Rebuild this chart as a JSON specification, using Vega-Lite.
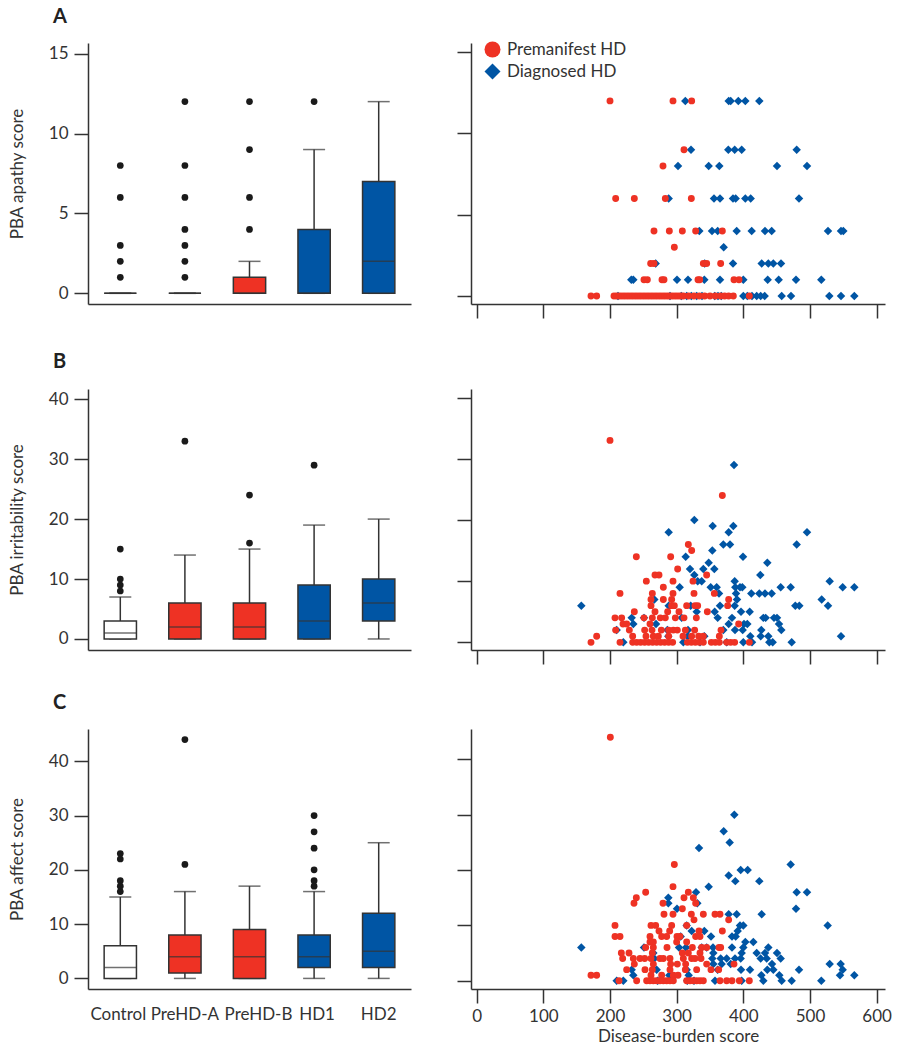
{
  "$schema": "https://vega.github.io/schema/vega-lite/v6.json",
  "padding": {"left": 8, "top": 7, "right": 3, "bottom": 2},
  "background": "white",
  "config": {
    "font": "Lato",
    "view": {"stroke": null},
    "axis": {"domainColor": "#333333", "tickColor": "#333333", "domainWidth": 1.5, "tickWidth": 1.5, "tickSize": 14, "grid": false, "labelFont": "Lato", "labelFontSize": 17, "labelColor": "#333333", "titleFont": "Lato", "titleFontSize": 17, "titleFontWeight": "normal", "titleColor": "#333333", "labelPadding": 6, "titlePadding": 22},
    "title": {"font": "Lato", "fontSize": 20, "fontWeight": "bold", "color": "#222222", "anchor": "start", "frame": "group", "baseline": "alphabetic"},
    "legend": {"labelFont": "Lato", "labelFontSize": 17, "labelColor": "#333333"}
  },
  "datasets": {
    "boxA": [
      {"group": "Control", "type": "Control", "lo": 0, "q1": 0, "med": 0, "q3": 0, "hi": 0},
      {"group": "PreHD-A", "type": "Premanifest", "lo": 0, "q1": 0, "med": 0, "q3": 0, "hi": 0},
      {"group": "PreHD-B", "type": "Premanifest", "lo": 0, "q1": 0, "med": 0, "q3": 1, "hi": 2},
      {"group": "HD1", "type": "Diagnosed", "lo": 0, "q1": 0, "med": 0, "q3": 4, "hi": 9},
      {"group": "HD2", "type": "Diagnosed", "lo": 0, "q1": 0, "med": 2, "q3": 7, "hi": 12}
    ],
    "boxB": [
      {"group": "Control", "type": "Control", "lo": 0, "q1": 0, "med": 1, "q3": 3, "hi": 7},
      {"group": "PreHD-A", "type": "Premanifest", "lo": 0, "q1": 0, "med": 2, "q3": 6, "hi": 14},
      {"group": "PreHD-B", "type": "Premanifest", "lo": 0, "q1": 0, "med": 2, "q3": 6, "hi": 15},
      {"group": "HD1", "type": "Diagnosed", "lo": 0, "q1": 0, "med": 3, "q3": 9, "hi": 19},
      {"group": "HD2", "type": "Diagnosed", "lo": 0, "q1": 3, "med": 6, "q3": 10, "hi": 20}
    ],
    "boxC": [
      {"group": "Control", "type": "Control", "lo": 0, "q1": 0, "med": 2, "q3": 6, "hi": 15},
      {"group": "PreHD-A", "type": "Premanifest", "lo": 0, "q1": 1, "med": 4, "q3": 8, "hi": 16},
      {"group": "PreHD-B", "type": "Premanifest", "lo": 0, "q1": 0, "med": 4, "q3": 9, "hi": 17},
      {"group": "HD1", "type": "Diagnosed", "lo": 0, "q1": 2, "med": 4, "q3": 8, "hi": 16},
      {"group": "HD2", "type": "Diagnosed", "lo": 0, "q1": 2, "med": 5, "q3": 12, "hi": 25}
    ],
    "outA": [
      {"group": "Control", "v": 1}, {"group": "Control", "v": 2}, {"group": "Control", "v": 3}, {"group": "Control", "v": 6}, {"group": "Control", "v": 8},
      {"group": "PreHD-A", "v": 1}, {"group": "PreHD-A", "v": 2}, {"group": "PreHD-A", "v": 3}, {"group": "PreHD-A", "v": 4}, {"group": "PreHD-A", "v": 6}, {"group": "PreHD-A", "v": 8}, {"group": "PreHD-A", "v": 12},
      {"group": "PreHD-B", "v": 4}, {"group": "PreHD-B", "v": 6}, {"group": "PreHD-B", "v": 9}, {"group": "PreHD-B", "v": 12},
      {"group": "HD1", "v": 12}
    ],
    "outB": [
      {"group": "Control", "v": 8}, {"group": "Control", "v": 9}, {"group": "Control", "v": 10}, {"group": "Control", "v": 15},
      {"group": "PreHD-A", "v": 33},
      {"group": "PreHD-B", "v": 16}, {"group": "PreHD-B", "v": 24},
      {"group": "HD1", "v": 29}
    ],
    "outC": [
      {"group": "Control", "v": 16}, {"group": "Control", "v": 17}, {"group": "Control", "v": 18}, {"group": "Control", "v": 22}, {"group": "Control", "v": 23},
      {"group": "PreHD-A", "v": 21}, {"group": "PreHD-A", "v": 44},
      {"group": "HD1", "v": 17}, {"group": "HD1", "v": 18}, {"group": "HD1", "v": 20}, {"group": "HD1", "v": 24}, {"group": "HD1", "v": 27}, {"group": "HD1", "v": 30}
    ],
    "scatA": [
      {"x": 200, "y": 12, "g": "Premanifest HD"}, {"x": 294.5, "y": 12, "g": "Premanifest HD"}, {"x": 322.5, "y": 12, "g": "Premanifest HD"},
      {"x": 311, "y": 9, "g": "Premanifest HD"}, {"x": 279.5, "y": 8, "g": "Premanifest HD"},
      {"x": 208.5, "y": 6, "g": "Premanifest HD"}, {"x": 236.5, "y": 6, "g": "Premanifest HD"}, {"x": 283, "y": 6, "g": "Premanifest HD"}, {"x": 322, "y": 6, "g": "Premanifest HD"},
      {"x": 266, "y": 4, "g": "Premanifest HD"}, {"x": 289, "y": 4, "g": "Premanifest HD"}, {"x": 308.5, "y": 4, "g": "Premanifest HD"}, {"x": 328.5, "y": 4, "g": "Premanifest HD"}, {"x": 368.5, "y": 4, "g": "Premanifest HD"},
      {"x": 296.5, "y": 3, "g": "Premanifest HD"},
      {"x": 261, "y": 2, "g": "Premanifest HD"}, {"x": 266, "y": 2, "g": "Premanifest HD"}, {"x": 340, "y": 2, "g": "Premanifest HD"}, {"x": 345, "y": 2, "g": "Premanifest HD"}, {"x": 366, "y": 2, "g": "Premanifest HD"},
      {"x": 251, "y": 1, "g": "Premanifest HD"}, {"x": 256, "y": 1, "g": "Premanifest HD"}, {"x": 278, "y": 1, "g": "Premanifest HD"}, {"x": 281, "y": 1, "g": "Premanifest HD"}, {"x": 332, "y": 1, "g": "Premanifest HD"}, {"x": 334.5, "y": 1, "g": "Premanifest HD"}, {"x": 386, "y": 1, "g": "Premanifest HD"}, {"x": 393.5, "y": 1, "g": "Premanifest HD"},
      {"x": 171.5, "y": 0, "g": "Premanifest HD"}, {"x": 180, "y": 0, "g": "Premanifest HD"}, {"x": 206, "y": 0, "g": "Premanifest HD"}, {"x": 210, "y": 0, "g": "Premanifest HD"}, {"x": 214, "y": 0, "g": "Premanifest HD"}, {"x": 218, "y": 0, "g": "Premanifest HD"}, {"x": 222, "y": 0, "g": "Premanifest HD"}, {"x": 226, "y": 0, "g": "Premanifest HD"}, {"x": 230, "y": 0, "g": "Premanifest HD"}, {"x": 234, "y": 0, "g": "Premanifest HD"}, {"x": 238, "y": 0, "g": "Premanifest HD"}, {"x": 242, "y": 0, "g": "Premanifest HD"}, {"x": 246, "y": 0, "g": "Premanifest HD"}, {"x": 250, "y": 0, "g": "Premanifest HD"}, {"x": 254, "y": 0, "g": "Premanifest HD"}, {"x": 258, "y": 0, "g": "Premanifest HD"}, {"x": 262, "y": 0, "g": "Premanifest HD"}, {"x": 266, "y": 0, "g": "Premanifest HD"}, {"x": 270, "y": 0, "g": "Premanifest HD"}, {"x": 274, "y": 0, "g": "Premanifest HD"}, {"x": 278, "y": 0, "g": "Premanifest HD"}, {"x": 282, "y": 0, "g": "Premanifest HD"}, {"x": 286, "y": 0, "g": "Premanifest HD"}, {"x": 290, "y": 0, "g": "Premanifest HD"}, {"x": 294, "y": 0, "g": "Premanifest HD"}, {"x": 298, "y": 0, "g": "Premanifest HD"}, {"x": 302, "y": 0, "g": "Premanifest HD"}, {"x": 306, "y": 0, "g": "Premanifest HD"}, {"x": 310, "y": 0, "g": "Premanifest HD"}, {"x": 318, "y": 0, "g": "Premanifest HD"}, {"x": 326, "y": 0, "g": "Premanifest HD"}, {"x": 334, "y": 0, "g": "Premanifest HD"}, {"x": 342, "y": 0, "g": "Premanifest HD"}, {"x": 350, "y": 0, "g": "Premanifest HD"}, {"x": 358, "y": 0, "g": "Premanifest HD"}, {"x": 366, "y": 0, "g": "Premanifest HD"}, {"x": 372, "y": 0, "g": "Premanifest HD"}, {"x": 378, "y": 0, "g": "Premanifest HD"}, {"x": 385, "y": 0, "g": "Premanifest HD"}, {"x": 409, "y": 0, "g": "Premanifest HD"},
      {"x": 313, "y": 12, "g": "Diagnosed HD"}, {"x": 378, "y": 12, "g": "Diagnosed HD"}, {"x": 381, "y": 12, "g": "Diagnosed HD"}, {"x": 392.5, "y": 12, "g": "Diagnosed HD"}, {"x": 403, "y": 12, "g": "Diagnosed HD"}, {"x": 424, "y": 12, "g": "Diagnosed HD"},
      {"x": 321.5, "y": 9, "g": "Diagnosed HD"}, {"x": 377.5, "y": 9, "g": "Diagnosed HD"}, {"x": 387, "y": 9, "g": "Diagnosed HD"}, {"x": 397.5, "y": 9, "g": "Diagnosed HD"}, {"x": 480, "y": 9, "g": "Diagnosed HD"},
      {"x": 302, "y": 8, "g": "Diagnosed HD"}, {"x": 348, "y": 8, "g": "Diagnosed HD"}, {"x": 364, "y": 8, "g": "Diagnosed HD"}, {"x": 450.5, "y": 8, "g": "Diagnosed HD"}, {"x": 495.5, "y": 8, "g": "Diagnosed HD"},
      {"x": 288, "y": 6, "g": "Diagnosed HD"}, {"x": 356, "y": 6, "g": "Diagnosed HD"}, {"x": 365, "y": 6, "g": "Diagnosed HD"}, {"x": 384.5, "y": 6, "g": "Diagnosed HD"}, {"x": 388.5, "y": 6, "g": "Diagnosed HD"}, {"x": 403, "y": 6, "g": "Diagnosed HD"}, {"x": 411, "y": 6, "g": "Diagnosed HD"}, {"x": 483.5, "y": 6, "g": "Diagnosed HD"},
      {"x": 334, "y": 4, "g": "Diagnosed HD"}, {"x": 353, "y": 4, "g": "Diagnosed HD"}, {"x": 361.5, "y": 4, "g": "Diagnosed HD"}, {"x": 390, "y": 4, "g": "Diagnosed HD"}, {"x": 412.5, "y": 4, "g": "Diagnosed HD"}, {"x": 432.5, "y": 4, "g": "Diagnosed HD"}, {"x": 442.5, "y": 4, "g": "Diagnosed HD"}, {"x": 527, "y": 4, "g": "Diagnosed HD"}, {"x": 546.5, "y": 4, "g": "Diagnosed HD"}, {"x": 550, "y": 4, "g": "Diagnosed HD"},
      {"x": 370.5, "y": 3, "g": "Diagnosed HD"},
      {"x": 268.5, "y": 2, "g": "Diagnosed HD"}, {"x": 342, "y": 2, "g": "Diagnosed HD"}, {"x": 384.5, "y": 2, "g": "Diagnosed HD"}, {"x": 427.5, "y": 2, "g": "Diagnosed HD"}, {"x": 437.5, "y": 2, "g": "Diagnosed HD"}, {"x": 445, "y": 2, "g": "Diagnosed HD"}, {"x": 456.5, "y": 2, "g": "Diagnosed HD"},
      {"x": 232, "y": 1, "g": "Diagnosed HD"}, {"x": 235, "y": 1, "g": "Diagnosed HD"}, {"x": 300.5, "y": 1, "g": "Diagnosed HD"}, {"x": 317, "y": 1, "g": "Diagnosed HD"}, {"x": 341.5, "y": 1, "g": "Diagnosed HD"}, {"x": 365, "y": 1, "g": "Diagnosed HD"}, {"x": 400, "y": 1, "g": "Diagnosed HD"}, {"x": 436.5, "y": 1, "g": "Diagnosed HD"}, {"x": 453, "y": 1, "g": "Diagnosed HD"}, {"x": 479, "y": 1, "g": "Diagnosed HD"}, {"x": 517, "y": 1, "g": "Diagnosed HD"},
      {"x": 212, "y": 0, "g": "Diagnosed HD"}, {"x": 290, "y": 0, "g": "Diagnosed HD"}, {"x": 307, "y": 0, "g": "Diagnosed HD"}, {"x": 315, "y": 0, "g": "Diagnosed HD"}, {"x": 322, "y": 0, "g": "Diagnosed HD"}, {"x": 330, "y": 0, "g": "Diagnosed HD"}, {"x": 338, "y": 0, "g": "Diagnosed HD"}, {"x": 357, "y": 0, "g": "Diagnosed HD"}, {"x": 362, "y": 0, "g": "Diagnosed HD"}, {"x": 367, "y": 0, "g": "Diagnosed HD"}, {"x": 400, "y": 0, "g": "Diagnosed HD"}, {"x": 406, "y": 0, "g": "Diagnosed HD"}, {"x": 413, "y": 0, "g": "Diagnosed HD"}, {"x": 420, "y": 0, "g": "Diagnosed HD"}, {"x": 426, "y": 0, "g": "Diagnosed HD"}, {"x": 432, "y": 0, "g": "Diagnosed HD"}, {"x": 457.5, "y": 0, "g": "Diagnosed HD"}, {"x": 471.5, "y": 0, "g": "Diagnosed HD"}, {"x": 529, "y": 0, "g": "Diagnosed HD"}, {"x": 546.5, "y": 0, "g": "Diagnosed HD"}, {"x": 566.5, "y": 0, "g": "Diagnosed HD"}
    ],
    "scatB": [
      {"x": 200, "y": 33, "g": "Premanifest HD"}, {"x": 368.5, "y": 24, "g": "Premanifest HD"}, {"x": 317.5, "y": 16, "g": "Premanifest HD"}, {"x": 322.5, "y": 15, "g": "Premanifest HD"}, {"x": 239.5, "y": 14, "g": "Premanifest HD"}, {"x": 291, "y": 14, "g": "Premanifest HD"},
      {"x": 301.5, "y": 12, "g": "Premanifest HD"}, {"x": 345, "y": 11, "g": "Premanifest HD"}, {"x": 267.5, "y": 11, "g": "Premanifest HD"}, {"x": 273.5, "y": 11, "g": "Premanifest HD"},
      {"x": 254.5, "y": 10, "g": "Premanifest HD"}, {"x": 294.5, "y": 10, "g": "Premanifest HD"}, {"x": 324.5, "y": 10, "g": "Premanifest HD"}, {"x": 280, "y": 9, "g": "Premanifest HD"},
      {"x": 215, "y": 8, "g": "Premanifest HD"}, {"x": 263.5, "y": 8, "g": "Premanifest HD"}, {"x": 294.5, "y": 8, "g": "Premanifest HD"}, {"x": 326, "y": 8, "g": "Premanifest HD"}, {"x": 356.5, "y": 8, "g": "Premanifest HD"},
      {"x": 261.5, "y": 7, "g": "Premanifest HD"}, {"x": 280, "y": 7, "g": "Premanifest HD"}, {"x": 292.5, "y": 7, "g": "Premanifest HD"}, {"x": 378, "y": 7, "g": "Premanifest HD"},
      {"x": 261.5, "y": 6, "g": "Premanifest HD"}, {"x": 292.5, "y": 6, "g": "Premanifest HD"}, {"x": 296.5, "y": 6, "g": "Premanifest HD"}, {"x": 315, "y": 6, "g": "Premanifest HD"}, {"x": 327.5, "y": 6, "g": "Premanifest HD"}, {"x": 331.5, "y": 6, "g": "Premanifest HD"}, {"x": 376.5, "y": 6, "g": "Premanifest HD"},
      {"x": 236.5, "y": 5, "g": "Premanifest HD"}, {"x": 267.5, "y": 5, "g": "Premanifest HD"}, {"x": 286.5, "y": 5, "g": "Premanifest HD"}, {"x": 303.5, "y": 5, "g": "Premanifest HD"}, {"x": 346, "y": 5, "g": "Premanifest HD"},
      {"x": 207.5, "y": 4, "g": "Premanifest HD"}, {"x": 217.5, "y": 4, "g": "Premanifest HD"}, {"x": 251, "y": 4, "g": "Premanifest HD"}, {"x": 263.5, "y": 4, "g": "Premanifest HD"}, {"x": 275.5, "y": 4, "g": "Premanifest HD"}, {"x": 283, "y": 4, "g": "Premanifest HD"}, {"x": 298, "y": 4, "g": "Premanifest HD"}, {"x": 311, "y": 4, "g": "Premanifest HD"}, {"x": 329.5, "y": 4, "g": "Premanifest HD"},
      {"x": 219.5, "y": 3, "g": "Premanifest HD"}, {"x": 225, "y": 3, "g": "Premanifest HD"}, {"x": 260, "y": 3, "g": "Premanifest HD"}, {"x": 393, "y": 3, "g": "Premanifest HD"},
      {"x": 208.5, "y": 2, "g": "Premanifest HD"}, {"x": 229, "y": 2, "g": "Premanifest HD"}, {"x": 252, "y": 2, "g": "Premanifest HD"}, {"x": 263, "y": 2, "g": "Premanifest HD"}, {"x": 277, "y": 2, "g": "Premanifest HD"}, {"x": 288, "y": 2, "g": "Premanifest HD"}, {"x": 295, "y": 2, "g": "Premanifest HD"}, {"x": 301, "y": 2, "g": "Premanifest HD"}, {"x": 313, "y": 2, "g": "Premanifest HD"}, {"x": 327, "y": 2, "g": "Premanifest HD"}, {"x": 366.5, "y": 2, "g": "Premanifest HD"},
      {"x": 180, "y": 1, "g": "Premanifest HD"}, {"x": 234, "y": 1, "g": "Premanifest HD"}, {"x": 254, "y": 1, "g": "Premanifest HD"}, {"x": 265, "y": 1, "g": "Premanifest HD"}, {"x": 272.5, "y": 1, "g": "Premanifest HD"}, {"x": 288, "y": 1, "g": "Premanifest HD"}, {"x": 309.5, "y": 1, "g": "Premanifest HD"}, {"x": 322.5, "y": 1, "g": "Premanifest HD"}, {"x": 333, "y": 1, "g": "Premanifest HD"}, {"x": 340, "y": 1, "g": "Premanifest HD"}, {"x": 364, "y": 1, "g": "Premanifest HD"},
      {"x": 171.5, "y": 0, "g": "Premanifest HD"}, {"x": 215, "y": 0, "g": "Premanifest HD"}, {"x": 234, "y": 0, "g": "Premanifest HD"}, {"x": 240, "y": 0, "g": "Premanifest HD"}, {"x": 246, "y": 0, "g": "Premanifest HD"}, {"x": 252, "y": 0, "g": "Premanifest HD"}, {"x": 258, "y": 0, "g": "Premanifest HD"}, {"x": 264, "y": 0, "g": "Premanifest HD"}, {"x": 270, "y": 0, "g": "Premanifest HD"}, {"x": 276, "y": 0, "g": "Premanifest HD"}, {"x": 282, "y": 0, "g": "Premanifest HD"}, {"x": 288, "y": 0, "g": "Premanifest HD"}, {"x": 294, "y": 0, "g": "Premanifest HD"}, {"x": 316, "y": 0, "g": "Premanifest HD"}, {"x": 322, "y": 0, "g": "Premanifest HD"}, {"x": 328, "y": 0, "g": "Premanifest HD"}, {"x": 334, "y": 0, "g": "Premanifest HD"}, {"x": 340, "y": 0, "g": "Premanifest HD"}, {"x": 352, "y": 0, "g": "Premanifest HD"}, {"x": 358, "y": 0, "g": "Premanifest HD"}, {"x": 364, "y": 0, "g": "Premanifest HD"}, {"x": 375, "y": 0, "g": "Premanifest HD"}, {"x": 381, "y": 0, "g": "Premanifest HD"}, {"x": 387, "y": 0, "g": "Premanifest HD"}, {"x": 409, "y": 0, "g": "Premanifest HD"},
      {"x": 386, "y": 29, "g": "Diagnosed HD"}, {"x": 326.5, "y": 20, "g": "Diagnosed HD"}, {"x": 354, "y": 19, "g": "Diagnosed HD"}, {"x": 385, "y": 19, "g": "Diagnosed HD"}, {"x": 288, "y": 18, "g": "Diagnosed HD"}, {"x": 378, "y": 18, "g": "Diagnosed HD"}, {"x": 495.5, "y": 18, "g": "Diagnosed HD"},
      {"x": 370, "y": 16, "g": "Diagnosed HD"}, {"x": 380, "y": 16, "g": "Diagnosed HD"}, {"x": 480, "y": 16, "g": "Diagnosed HD"}, {"x": 353.5, "y": 15, "g": "Diagnosed HD"}, {"x": 313.5, "y": 14, "g": "Diagnosed HD"}, {"x": 399.5, "y": 14, "g": "Diagnosed HD"},
      {"x": 348, "y": 13, "g": "Diagnosed HD"}, {"x": 436, "y": 13, "g": "Diagnosed HD"}, {"x": 320, "y": 12, "g": "Diagnosed HD"}, {"x": 340, "y": 12, "g": "Diagnosed HD"}, {"x": 356.5, "y": 12, "g": "Diagnosed HD"}, {"x": 326.5, "y": 11, "g": "Diagnosed HD"}, {"x": 425.5, "y": 11, "g": "Diagnosed HD"},
      {"x": 331.5, "y": 10, "g": "Diagnosed HD"}, {"x": 337.5, "y": 10, "g": "Diagnosed HD"}, {"x": 387, "y": 10, "g": "Diagnosed HD"}, {"x": 529.5, "y": 10, "g": "Diagnosed HD"},
      {"x": 304.5, "y": 9, "g": "Diagnosed HD"}, {"x": 351, "y": 9, "g": "Diagnosed HD"}, {"x": 360, "y": 9, "g": "Diagnosed HD"}, {"x": 388, "y": 9, "g": "Diagnosed HD"}, {"x": 395, "y": 9, "g": "Diagnosed HD"}, {"x": 398.5, "y": 9, "g": "Diagnosed HD"}, {"x": 456, "y": 9, "g": "Diagnosed HD"}, {"x": 471, "y": 9, "g": "Diagnosed HD"}, {"x": 549, "y": 9, "g": "Diagnosed HD"}, {"x": 566.5, "y": 9, "g": "Diagnosed HD"},
      {"x": 363.5, "y": 8, "g": "Diagnosed HD"}, {"x": 389, "y": 8, "g": "Diagnosed HD"}, {"x": 412, "y": 8, "g": "Diagnosed HD"}, {"x": 424, "y": 8, "g": "Diagnosed HD"}, {"x": 432.5, "y": 8, "g": "Diagnosed HD"}, {"x": 442.5, "y": 8, "g": "Diagnosed HD"},
      {"x": 266.5, "y": 7, "g": "Diagnosed HD"}, {"x": 390.5, "y": 7, "g": "Diagnosed HD"}, {"x": 517.5, "y": 7, "g": "Diagnosed HD"},
      {"x": 157, "y": 6, "g": "Diagnosed HD"}, {"x": 288, "y": 6, "g": "Diagnosed HD"}, {"x": 321, "y": 6, "g": "Diagnosed HD"}, {"x": 365, "y": 6, "g": "Diagnosed HD"}, {"x": 387, "y": 6, "g": "Diagnosed HD"}, {"x": 478, "y": 6, "g": "Diagnosed HD"}, {"x": 484, "y": 6, "g": "Diagnosed HD"}, {"x": 527, "y": 6, "g": "Diagnosed HD"},
      {"x": 330, "y": 5, "g": "Diagnosed HD"}, {"x": 357, "y": 5, "g": "Diagnosed HD"}, {"x": 396.5, "y": 5, "g": "Diagnosed HD"}, {"x": 409.5, "y": 5, "g": "Diagnosed HD"},
      {"x": 232.5, "y": 4, "g": "Diagnosed HD"}, {"x": 251, "y": 4, "g": "Diagnosed HD"}, {"x": 307.5, "y": 4, "g": "Diagnosed HD"}, {"x": 361.5, "y": 4, "g": "Diagnosed HD"}, {"x": 383, "y": 4, "g": "Diagnosed HD"}, {"x": 430, "y": 4, "g": "Diagnosed HD"}, {"x": 433.5, "y": 4, "g": "Diagnosed HD"}, {"x": 446, "y": 4, "g": "Diagnosed HD"}, {"x": 450.5, "y": 4, "g": "Diagnosed HD"},
      {"x": 235, "y": 3, "g": "Diagnosed HD"}, {"x": 269, "y": 3, "g": "Diagnosed HD"}, {"x": 378, "y": 3, "g": "Diagnosed HD"}, {"x": 401, "y": 3, "g": "Diagnosed HD"}, {"x": 406, "y": 3, "g": "Diagnosed HD"}, {"x": 453.5, "y": 3, "g": "Diagnosed HD"},
      {"x": 210, "y": 2, "g": "Diagnosed HD"}, {"x": 286, "y": 2, "g": "Diagnosed HD"}, {"x": 317, "y": 2, "g": "Diagnosed HD"}, {"x": 370, "y": 2, "g": "Diagnosed HD"}, {"x": 387.5, "y": 2, "g": "Diagnosed HD"}, {"x": 399, "y": 2, "g": "Diagnosed HD"}, {"x": 427, "y": 2, "g": "Diagnosed HD"}, {"x": 457, "y": 2, "g": "Diagnosed HD"},
      {"x": 287.5, "y": 1, "g": "Diagnosed HD"}, {"x": 316.5, "y": 1, "g": "Diagnosed HD"}, {"x": 341.5, "y": 1, "g": "Diagnosed HD"}, {"x": 410.5, "y": 1, "g": "Diagnosed HD"}, {"x": 426, "y": 1, "g": "Diagnosed HD"}, {"x": 437.5, "y": 1, "g": "Diagnosed HD"}, {"x": 546.5, "y": 1, "g": "Diagnosed HD"},
      {"x": 220, "y": 0, "g": "Diagnosed HD"}, {"x": 310, "y": 0, "g": "Diagnosed HD"}, {"x": 335, "y": 0, "g": "Diagnosed HD"}, {"x": 375, "y": 0, "g": "Diagnosed HD"}, {"x": 400, "y": 0, "g": "Diagnosed HD"}, {"x": 413, "y": 0, "g": "Diagnosed HD"}, {"x": 439, "y": 0, "g": "Diagnosed HD"}, {"x": 444, "y": 0, "g": "Diagnosed HD"}, {"x": 472.5, "y": 0, "g": "Diagnosed HD"}
    ],
    "scatC": [
      {"x": 200.5, "y": 44, "g": "Premanifest HD"}, {"x": 296.5, "y": 21, "g": "Premanifest HD"}, {"x": 294.5, "y": 17, "g": "Premanifest HD"}, {"x": 253.5, "y": 16, "g": "Premanifest HD"}, {"x": 317.5, "y": 16, "g": "Premanifest HD"},
      {"x": 239.5, "y": 15, "g": "Premanifest HD"}, {"x": 311, "y": 15, "g": "Premanifest HD"}, {"x": 325, "y": 15, "g": "Premanifest HD"}, {"x": 236, "y": 14, "g": "Premanifest HD"}, {"x": 279.5, "y": 14, "g": "Premanifest HD"}, {"x": 328.5, "y": 14, "g": "Premanifest HD"}, {"x": 308.5, "y": 13, "g": "Premanifest HD"},
      {"x": 281, "y": 12, "g": "Premanifest HD"}, {"x": 294.5, "y": 12, "g": "Premanifest HD"}, {"x": 322, "y": 12, "g": "Premanifest HD"}, {"x": 340, "y": 12, "g": "Premanifest HD"}, {"x": 357.5, "y": 12, "g": "Premanifest HD"}, {"x": 365, "y": 12, "g": "Premanifest HD"},
      {"x": 326, "y": 11, "g": "Premanifest HD"}, {"x": 378, "y": 11, "g": "Premanifest HD"},
      {"x": 207.5, "y": 10, "g": "Premanifest HD"}, {"x": 261.5, "y": 10, "g": "Premanifest HD"}, {"x": 268.5, "y": 10, "g": "Premanifest HD"}, {"x": 292.5, "y": 10, "g": "Premanifest HD"}, {"x": 315, "y": 10, "g": "Premanifest HD"},
      {"x": 273.5, "y": 9, "g": "Premanifest HD"}, {"x": 289.5, "y": 9, "g": "Premanifest HD"}, {"x": 333.5, "y": 9, "g": "Premanifest HD"}, {"x": 368.5, "y": 9, "g": "Premanifest HD"},
      {"x": 207.5, "y": 8, "g": "Premanifest HD"}, {"x": 215, "y": 8, "g": "Premanifest HD"}, {"x": 260, "y": 8, "g": "Premanifest HD"}, {"x": 277.5, "y": 8, "g": "Premanifest HD"}, {"x": 285, "y": 8, "g": "Premanifest HD"}, {"x": 300.5, "y": 8, "g": "Premanifest HD"}, {"x": 305, "y": 8, "g": "Premanifest HD"}, {"x": 328.5, "y": 8, "g": "Premanifest HD"}, {"x": 335, "y": 8, "g": "Premanifest HD"},
      {"x": 260, "y": 7, "g": "Premanifest HD"}, {"x": 265, "y": 7, "g": "Premanifest HD"}, {"x": 300, "y": 7, "g": "Premanifest HD"}, {"x": 315, "y": 7, "g": "Premanifest HD"},
      {"x": 253.5, "y": 6, "g": "Premanifest HD"}, {"x": 265, "y": 6, "g": "Premanifest HD"}, {"x": 285.5, "y": 6, "g": "Premanifest HD"}, {"x": 323.5, "y": 6, "g": "Premanifest HD"}, {"x": 337.5, "y": 6, "g": "Premanifest HD"}, {"x": 345, "y": 6, "g": "Premanifest HD"}, {"x": 363.5, "y": 6, "g": "Premanifest HD"}, {"x": 366, "y": 6, "g": "Premanifest HD"},
      {"x": 217, "y": 5, "g": "Premanifest HD"}, {"x": 228.5, "y": 5, "g": "Premanifest HD"}, {"x": 263.5, "y": 5, "g": "Premanifest HD"}, {"x": 308.5, "y": 5, "g": "Premanifest HD"}, {"x": 317.5, "y": 5, "g": "Premanifest HD"}, {"x": 335, "y": 5, "g": "Premanifest HD"},
      {"x": 219, "y": 4, "g": "Premanifest HD"}, {"x": 235, "y": 4, "g": "Premanifest HD"}, {"x": 245, "y": 4, "g": "Premanifest HD"}, {"x": 252, "y": 4, "g": "Premanifest HD"}, {"x": 261.5, "y": 4, "g": "Premanifest HD"}, {"x": 275, "y": 4, "g": "Premanifest HD"}, {"x": 280, "y": 4, "g": "Premanifest HD"}, {"x": 290, "y": 4, "g": "Premanifest HD"}, {"x": 310, "y": 4, "g": "Premanifest HD"}, {"x": 322.5, "y": 4, "g": "Premanifest HD"}, {"x": 327.5, "y": 4, "g": "Premanifest HD"}, {"x": 336.5, "y": 4, "g": "Premanifest HD"},
      {"x": 236.5, "y": 3, "g": "Premanifest HD"}, {"x": 265, "y": 3, "g": "Premanifest HD"}, {"x": 291, "y": 3, "g": "Premanifest HD"}, {"x": 301, "y": 3, "g": "Premanifest HD"}, {"x": 313.5, "y": 3, "g": "Premanifest HD"}, {"x": 345, "y": 3, "g": "Premanifest HD"}, {"x": 386, "y": 3, "g": "Premanifest HD"},
      {"x": 225, "y": 2, "g": "Premanifest HD"}, {"x": 252.5, "y": 2, "g": "Premanifest HD"}, {"x": 263.5, "y": 2, "g": "Premanifest HD"}, {"x": 290, "y": 2, "g": "Premanifest HD"}, {"x": 313, "y": 2, "g": "Premanifest HD"}, {"x": 330, "y": 2, "g": "Premanifest HD"}, {"x": 351.5, "y": 2, "g": "Premanifest HD"}, {"x": 363, "y": 2, "g": "Premanifest HD"},
      {"x": 171.5, "y": 1, "g": "Premanifest HD"}, {"x": 180, "y": 1, "g": "Premanifest HD"}, {"x": 261.5, "y": 1, "g": "Premanifest HD"}, {"x": 277.5, "y": 1, "g": "Premanifest HD"}, {"x": 295, "y": 1, "g": "Premanifest HD"}, {"x": 302, "y": 1, "g": "Premanifest HD"},
      {"x": 213.5, "y": 0, "g": "Premanifest HD"}, {"x": 240, "y": 0, "g": "Premanifest HD"}, {"x": 255, "y": 0, "g": "Premanifest HD"}, {"x": 260, "y": 0, "g": "Premanifest HD"}, {"x": 265, "y": 0, "g": "Premanifest HD"}, {"x": 270, "y": 0, "g": "Premanifest HD"}, {"x": 275, "y": 0, "g": "Premanifest HD"}, {"x": 280, "y": 0, "g": "Premanifest HD"}, {"x": 285, "y": 0, "g": "Premanifest HD"}, {"x": 290, "y": 0, "g": "Premanifest HD"}, {"x": 295, "y": 0, "g": "Premanifest HD"}, {"x": 315, "y": 0, "g": "Premanifest HD"}, {"x": 320, "y": 0, "g": "Premanifest HD"}, {"x": 325, "y": 0, "g": "Premanifest HD"}, {"x": 330, "y": 0, "g": "Premanifest HD"}, {"x": 335, "y": 0, "g": "Premanifest HD"}, {"x": 340, "y": 0, "g": "Premanifest HD"}, {"x": 365, "y": 0, "g": "Premanifest HD"}, {"x": 375, "y": 0, "g": "Premanifest HD"}, {"x": 383, "y": 0, "g": "Premanifest HD"}, {"x": 394, "y": 0, "g": "Premanifest HD"}, {"x": 409, "y": 0, "g": "Premanifest HD"},
      {"x": 386.5, "y": 30, "g": "Diagnosed HD"}, {"x": 370.5, "y": 27, "g": "Diagnosed HD"}, {"x": 379.5, "y": 25, "g": "Diagnosed HD"}, {"x": 333.5, "y": 24, "g": "Diagnosed HD"}, {"x": 471, "y": 21, "g": "Diagnosed HD"}, {"x": 396, "y": 20, "g": "Diagnosed HD"}, {"x": 406.5, "y": 20, "g": "Diagnosed HD"},
      {"x": 378, "y": 19, "g": "Diagnosed HD"}, {"x": 388, "y": 18, "g": "Diagnosed HD"}, {"x": 424, "y": 18, "g": "Diagnosed HD"}, {"x": 348, "y": 17, "g": "Diagnosed HD"}, {"x": 329, "y": 16, "g": "Diagnosed HD"}, {"x": 480, "y": 16, "g": "Diagnosed HD"}, {"x": 495.5, "y": 16, "g": "Diagnosed HD"},
      {"x": 287.5, "y": 15, "g": "Diagnosed HD"}, {"x": 287.5, "y": 14, "g": "Diagnosed HD"}, {"x": 331, "y": 14, "g": "Diagnosed HD"}, {"x": 300.5, "y": 13, "g": "Diagnosed HD"}, {"x": 479, "y": 13, "g": "Diagnosed HD"},
      {"x": 378, "y": 12, "g": "Diagnosed HD"}, {"x": 390, "y": 12, "g": "Diagnosed HD"}, {"x": 427.5, "y": 12, "g": "Diagnosed HD"},
      {"x": 315, "y": 10, "g": "Diagnosed HD"}, {"x": 395, "y": 10, "g": "Diagnosed HD"}, {"x": 400, "y": 10, "g": "Diagnosed HD"}, {"x": 526.5, "y": 10, "g": "Diagnosed HD"},
      {"x": 322.5, "y": 9, "g": "Diagnosed HD"}, {"x": 341.5, "y": 9, "g": "Diagnosed HD"}, {"x": 391.5, "y": 9, "g": "Diagnosed HD"},
      {"x": 306, "y": 8, "g": "Diagnosed HD"}, {"x": 351.5, "y": 8, "g": "Diagnosed HD"}, {"x": 383, "y": 8, "g": "Diagnosed HD"}, {"x": 388.5, "y": 8, "g": "Diagnosed HD"},
      {"x": 403, "y": 7, "g": "Diagnosed HD"}, {"x": 415, "y": 7, "g": "Diagnosed HD"},
      {"x": 157, "y": 6, "g": "Diagnosed HD"}, {"x": 251, "y": 6, "g": "Diagnosed HD"}, {"x": 303.5, "y": 6, "g": "Diagnosed HD"}, {"x": 314, "y": 6, "g": "Diagnosed HD"}, {"x": 337.5, "y": 6, "g": "Diagnosed HD"}, {"x": 345, "y": 6, "g": "Diagnosed HD"}, {"x": 354.5, "y": 6, "g": "Diagnosed HD"}, {"x": 383, "y": 6, "g": "Diagnosed HD"}, {"x": 400, "y": 6, "g": "Diagnosed HD"}, {"x": 437.5, "y": 6, "g": "Diagnosed HD"},
      {"x": 265, "y": 5, "g": "Diagnosed HD"}, {"x": 355, "y": 5, "g": "Diagnosed HD"}, {"x": 397.5, "y": 5, "g": "Diagnosed HD"}, {"x": 420, "y": 5, "g": "Diagnosed HD"}, {"x": 432.5, "y": 5, "g": "Diagnosed HD"}, {"x": 450.5, "y": 5, "g": "Diagnosed HD"},
      {"x": 266.5, "y": 4, "g": "Diagnosed HD"}, {"x": 353.5, "y": 4, "g": "Diagnosed HD"}, {"x": 366, "y": 4, "g": "Diagnosed HD"}, {"x": 375, "y": 4, "g": "Diagnosed HD"}, {"x": 387.5, "y": 4, "g": "Diagnosed HD"}, {"x": 396, "y": 4, "g": "Diagnosed HD"}, {"x": 426, "y": 4, "g": "Diagnosed HD"}, {"x": 435, "y": 4, "g": "Diagnosed HD"}, {"x": 456, "y": 4, "g": "Diagnosed HD"},
      {"x": 355, "y": 3, "g": "Diagnosed HD"}, {"x": 367.5, "y": 3, "g": "Diagnosed HD"}, {"x": 381, "y": 3, "g": "Diagnosed HD"}, {"x": 443, "y": 3, "g": "Diagnosed HD"}, {"x": 529.5, "y": 3, "g": "Diagnosed HD"}, {"x": 546, "y": 3, "g": "Diagnosed HD"},
      {"x": 232.5, "y": 2, "g": "Diagnosed HD"}, {"x": 270, "y": 2, "g": "Diagnosed HD"}, {"x": 315, "y": 2, "g": "Diagnosed HD"}, {"x": 361.5, "y": 2, "g": "Diagnosed HD"}, {"x": 396.5, "y": 2, "g": "Diagnosed HD"}, {"x": 410, "y": 2, "g": "Diagnosed HD"}, {"x": 436, "y": 2, "g": "Diagnosed HD"}, {"x": 445, "y": 2, "g": "Diagnosed HD"}, {"x": 483.5, "y": 2, "g": "Diagnosed HD"}, {"x": 549, "y": 2, "g": "Diagnosed HD"},
      {"x": 235, "y": 1, "g": "Diagnosed HD"}, {"x": 289, "y": 1, "g": "Diagnosed HD"}, {"x": 318, "y": 1, "g": "Diagnosed HD"}, {"x": 427, "y": 1, "g": "Diagnosed HD"}, {"x": 454, "y": 1, "g": "Diagnosed HD"}, {"x": 545, "y": 1, "g": "Diagnosed HD"}, {"x": 566.5, "y": 1, "g": "Diagnosed HD"},
      {"x": 210, "y": 0, "g": "Diagnosed HD"}, {"x": 220, "y": 0, "g": "Diagnosed HD"}, {"x": 271.5, "y": 0, "g": "Diagnosed HD"}, {"x": 316, "y": 0, "g": "Diagnosed HD"}, {"x": 326, "y": 0, "g": "Diagnosed HD"}, {"x": 357.5, "y": 0, "g": "Diagnosed HD"}, {"x": 397.5, "y": 0, "g": "Diagnosed HD"}, {"x": 430, "y": 0, "g": "Diagnosed HD"}, {"x": 457.5, "y": 0, "g": "Diagnosed HD"}, {"x": 472.5, "y": 0, "g": "Diagnosed HD"}, {"x": 517, "y": 0, "g": "Diagnosed HD"}
    ]
  },
  "spacing": 33,
  "resolve": {
    "scale": {"color": "independent", "shape": "independent"},
    "legend": {"color": "independent", "shape": "independent"}
  },
  "vconcat": [
    {
      "hconcat": [
        {
          "title": {"text": "A", "offset": 16, "dx": -35},
          "width": 323, "height": 261,
          "encoding": {
            "x": {"field": "group", "type": "nominal", "sort": null,
              "scale": {"domain": ["Control", "PreHD-A", "PreHD-B", "HD1", "HD2"], "paddingInner": 0.5, "paddingOuter": 0.25},
              "axis": {"labels": false, "ticks": false, "tickSize": 0, "title": null}}
          },
          "layer": [
            {"data": {"name": "boxA"}, "mark": {"type": "rule", "color": "#333333", "strokeWidth": 1.5},
              "encoding": {"y": {"field": "lo", "type": "quantitative", "scale": {"domain": [-0.67, 15.67], "nice": false, "zero": false}, "axis": {"values": [0, 5, 10, 15], "title": "PBA apathy score"}}, "y2": {"field": "hi"}}},
            {"data": {"name": "boxA"}, "mark": {"type": "tick", "color": "#333333", "thickness": 1.5, "size": 22}, "encoding": {"y": {"field": "lo", "type": "quantitative"}}},
            {"data": {"name": "boxA"}, "mark": {"type": "tick", "color": "#333333", "thickness": 1.5, "size": 22}, "encoding": {"y": {"field": "hi", "type": "quantitative"}}},
            {"data": {"name": "boxA"}, "mark": {"type": "bar", "stroke": "#333333", "strokeWidth": 1.5},
              "encoding": {"y": {"field": "q1", "type": "quantitative"}, "y2": {"field": "q3"},
                "fill": {"field": "type", "type": "nominal", "scale": {"domain": ["Control", "Premanifest", "Diagnosed"], "range": ["#ffffff", "#EE3224", "#0055A4"]}, "legend": null}}},
            {"data": {"name": "boxA"}, "mark": {"type": "tick", "color": "#333333", "thickness": 1.5, "size": 32}, "encoding": {"y": {"field": "med", "type": "quantitative"}}},
            {"data": {"name": "outA"}, "mark": {"type": "circle", "color": "#1a1a1a", "size": 45, "opacity": 1}, "encoding": {"y": {"field": "v", "type": "quantitative"}}}
          ]
        },
        {
          "width": 414, "height": 261,
          "data": {"name": "scatA"},
          "encoding": {
            "x": {"field": "x", "type": "quantitative", "scale": {"domain": [-8.5, 612.5], "nice": false, "zero": false}, "axis": {"values": [0, 100, 200, 300, 400, 500, 600], "labels": false, "title": null}},
            "y": {"field": "y", "type": "quantitative", "scale": {"domain": [-0.49, 15.56], "nice": false, "zero": false}, "axis": {"values": [0, 5, 10, 15], "labels": false, "title": null}},
            "color": {"field": "g", "type": "nominal", "scale": {"domain": ["Premanifest HD", "Diagnosed HD"], "range": ["#EE3224", "#0055A4"]},
              "legend": {"title": null, "orient": "none", "legendX": 13, "legendY": -2, "symbolSize": 256, "labelFontSize": 17, "rowPadding": 4, "labelOffset": 6, "padding": 0, "symbolStrokeWidth": 0}},
            "shape": {"field": "g", "type": "nominal", "scale": {"domain": ["Premanifest HD", "Diagnosed HD"], "range": ["circle", "diamond"]},
              "legend": {"title": null, "orient": "none", "legendX": 13, "legendY": -2, "symbolSize": 256, "labelFontSize": 17, "rowPadding": 4, "labelOffset": 6, "padding": 0, "symbolStrokeWidth": 0}}
          },
          "layer": [
            {"transform": [{"filter": "datum.g === 'Diagnosed HD'"}], "mark": {"type": "point", "filled": true, "opacity": 1, "size": 72}},
            {"transform": [{"filter": "datum.g === 'Premanifest HD'"}], "mark": {"type": "point", "filled": true, "opacity": 1, "size": 48}}
          ]
        }
      ],
      "spacing": 45,
      "resolve": {
        "scale": {"color": "independent", "shape": "independent"},
        "legend": {"color": "independent", "shape": "independent"}
      }
    },
    {
      "vconcat": [
        {
          "hconcat": [
            {
              "title": {"text": "B", "offset": 17, "dx": -35},
              "width": 323, "height": 261,
              "encoding": {
                "x": {"field": "group", "type": "nominal", "sort": null,
                  "scale": {"domain": ["Control", "PreHD-A", "PreHD-B", "HD1", "HD2"], "paddingInner": 0.5, "paddingOuter": 0.25},
                  "axis": {"labels": false, "ticks": false, "tickSize": 0, "title": null}}
              },
              "layer": [
                {"data": {"name": "boxB"}, "mark": {"type": "rule", "color": "#333333", "strokeWidth": 1.5},
                  "encoding": {"y": {"field": "lo", "type": "quantitative", "scale": {"domain": [-1.84, 41.7], "nice": false, "zero": false}, "axis": {"values": [0, 10, 20, 30, 40], "title": "PBA irritability score"}}, "y2": {"field": "hi"}}},
                {"data": {"name": "boxB"}, "mark": {"type": "tick", "color": "#333333", "thickness": 1.5, "size": 22}, "encoding": {"y": {"field": "lo", "type": "quantitative"}}},
                {"data": {"name": "boxB"}, "mark": {"type": "tick", "color": "#333333", "thickness": 1.5, "size": 22}, "encoding": {"y": {"field": "hi", "type": "quantitative"}}},
                {"data": {"name": "boxB"}, "mark": {"type": "bar", "stroke": "#333333", "strokeWidth": 1.5},
                  "encoding": {"y": {"field": "q1", "type": "quantitative"}, "y2": {"field": "q3"},
                    "fill": {"field": "type", "type": "nominal", "scale": {"domain": ["Control", "Premanifest", "Diagnosed"], "range": ["#ffffff", "#EE3224", "#0055A4"]}, "legend": null}}},
                {"data": {"name": "boxB"}, "mark": {"type": "tick", "color": "#333333", "thickness": 1.5, "size": 32}, "encoding": {"y": {"field": "med", "type": "quantitative"}}},
                {"data": {"name": "outB"}, "mark": {"type": "circle", "color": "#1a1a1a", "size": 45, "opacity": 1}, "encoding": {"y": {"field": "v", "type": "quantitative"}}}
              ]
            },
            {
              "width": 414, "height": 261,
              "data": {"name": "scatB"},
              "encoding": {
                "x": {"field": "x", "type": "quantitative", "scale": {"domain": [-8.5, 612.5], "nice": false, "zero": false}, "axis": {"values": [0, 100, 200, 300, 400, 500, 600], "labels": false, "title": null}},
                "y": {"field": "y", "type": "quantitative", "scale": {"domain": [-1.25, 41.4], "nice": false, "zero": false}, "axis": {"values": [0, 10, 20, 30, 40], "labels": false, "title": null}},
                "color": {"field": "g", "type": "nominal", "scale": {"domain": ["Premanifest HD", "Diagnosed HD"], "range": ["#EE3224", "#0055A4"]}, "legend": null},
                "shape": {"field": "g", "type": "nominal", "scale": {"domain": ["Premanifest HD", "Diagnosed HD"], "range": ["circle", "diamond"]}, "legend": null}
              },
              "layer": [
                {"transform": [{"filter": "datum.g === 'Diagnosed HD'"}], "mark": {"type": "point", "filled": true, "opacity": 1, "size": 72}},
                {"transform": [{"filter": "datum.g === 'Premanifest HD'"}], "mark": {"type": "point", "filled": true, "opacity": 1, "size": 48}}
              ]
            }
          ],
          "spacing": 45,
          "resolve": {
            "scale": {"color": "independent", "shape": "independent"},
            "legend": {"color": "independent", "shape": "independent"}
          }
        },
        {
          "hconcat": [
            {
              "title": {"text": "C", "offset": 16, "dx": -35},
              "width": 323, "height": 260,
              "encoding": {
                "x": {"field": "group", "type": "nominal", "sort": null,
                  "scale": {"domain": ["Control", "PreHD-A", "PreHD-B", "HD1", "HD2"], "paddingInner": 0.5, "paddingOuter": 0.25},
                  "axis": {"labels": true, "ticks": false, "tickSize": 0, "title": null, "labelPadding": 17, "labelAngle": 0,
                    "labelOffset": {"condition": [{"test": "datum.value === 'PreHD-B'", "value": 9}, {"test": "datum.value === 'HD1'", "value": 3}, {"test": "datum.value === 'Control'", "value": -2}], "value": 0}}}
              },
              "layer": [
                {"data": {"name": "boxC"}, "mark": {"type": "rule", "color": "#333333", "strokeWidth": 1.5},
                  "encoding": {"y": {"field": "lo", "type": "quantitative", "scale": {"domain": [-1.95, 45.95], "nice": false, "zero": false}, "axis": {"values": [0, 10, 20, 30, 40], "title": "PBA affect score"}}, "y2": {"field": "hi"}}},
                {"data": {"name": "boxC"}, "mark": {"type": "tick", "color": "#333333", "thickness": 1.5, "size": 22}, "encoding": {"y": {"field": "lo", "type": "quantitative"}}},
                {"data": {"name": "boxC"}, "mark": {"type": "tick", "color": "#333333", "thickness": 1.5, "size": 22}, "encoding": {"y": {"field": "hi", "type": "quantitative"}}},
                {"data": {"name": "boxC"}, "mark": {"type": "bar", "stroke": "#333333", "strokeWidth": 1.5},
                  "encoding": {"y": {"field": "q1", "type": "quantitative"}, "y2": {"field": "q3"},
                    "fill": {"field": "type", "type": "nominal", "scale": {"domain": ["Control", "Premanifest", "Diagnosed"], "range": ["#ffffff", "#EE3224", "#0055A4"]}, "legend": null}}},
                {"data": {"name": "boxC"}, "mark": {"type": "tick", "color": "#333333", "thickness": 1.5, "size": 32}, "encoding": {"y": {"field": "med", "type": "quantitative"}}},
                {"data": {"name": "outC"}, "mark": {"type": "circle", "color": "#1a1a1a", "size": 45, "opacity": 1}, "encoding": {"y": {"field": "v", "type": "quantitative"}}}
              ]
            },
            {
              "width": 414, "height": 260,
              "data": {"name": "scatC"},
              "encoding": {
                "x": {"field": "x", "type": "quantitative", "scale": {"domain": [-8.5, 612.5], "nice": false, "zero": false}, "axis": {"values": [0, 100, 200, 300, 400, 500, 600], "labels": true, "title": "Disease-burden score", "labelPadding": 5, "titlePadding": 4}},
                "y": {"field": "y", "type": "quantitative", "scale": {"domain": [-1.5, 45.5], "nice": false, "zero": false}, "axis": {"values": [0, 10, 20, 30, 40], "labels": false, "title": null}},
                "color": {"field": "g", "type": "nominal", "scale": {"domain": ["Premanifest HD", "Diagnosed HD"], "range": ["#EE3224", "#0055A4"]}, "legend": null},
                "shape": {"field": "g", "type": "nominal", "scale": {"domain": ["Premanifest HD", "Diagnosed HD"], "range": ["circle", "diamond"]}, "legend": null}
              },
              "layer": [
                {"transform": [{"filter": "datum.g === 'Diagnosed HD'"}], "mark": {"type": "point", "filled": true, "opacity": 1, "size": 72}},
                {"transform": [{"filter": "datum.g === 'Premanifest HD'"}], "mark": {"type": "point", "filled": true, "opacity": 1, "size": 48}}
              ]
            }
          ],
          "spacing": 45,
          "resolve": {
            "scale": {"color": "independent", "shape": "independent"},
            "legend": {"color": "independent", "shape": "independent"}
          }
        }
      ],
      "spacing": 28,
      "resolve": {
        "scale": {"color": "independent", "shape": "independent"},
        "legend": {"color": "independent", "shape": "independent"}
      }
    }
  ]
}
